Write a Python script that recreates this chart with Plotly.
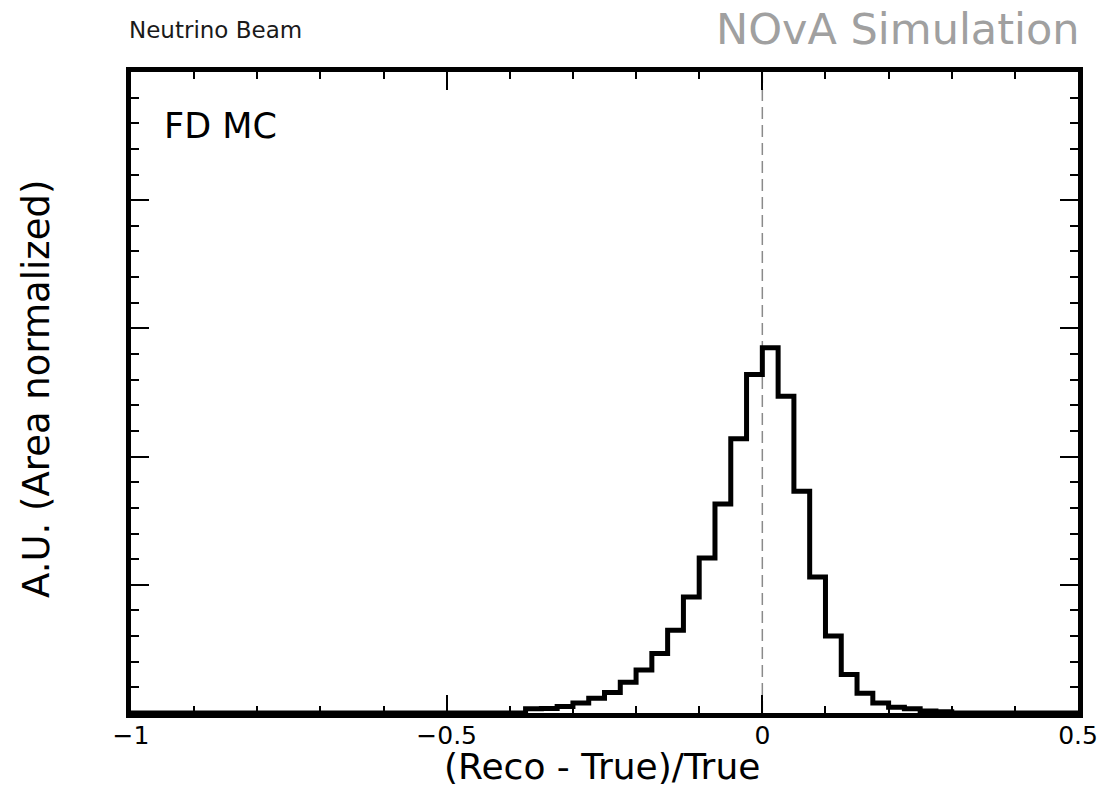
import numpy as np
import plotly.graph_objects as go

# ---- data ----
bin_width = 0.025
x_min, x_max = -1.0, 0.5
first_bin_low = -0.375
bin_values = [0.033, 0.035, 0.05, 0.078, 0.116, 0.16, 0.24,
              0.335, 0.465, 0.645, 0.905, 1.21, 1.63, 2.14, 2.64,
              2.85, 2.47, 1.73, 1.06, 0.60, 0.30, 0.155, 0.078, 0.044,
              0.033, 0.015, 0.01]
x_tick_vals = [-1, -0.5, 0, 0.5]
x_tick_text = ["\u22121", "\u22120.5", "0", "0.5"]
x_title = "(Reco - True)/True"
y_title = "A.U. (Area normalized)"

# ---- build full histogram over the axis range ----
n_bins = int(round((x_max - x_min) / bin_width))
edges = x_min + bin_width * np.arange(n_bins + 1)
counts = np.zeros(n_bins)
start = int(round((first_bin_low - x_min) / bin_width))
counts[start:start + len(bin_values)] = bin_values
xs = list(edges)
ys = list(counts) + [counts[-1]]

fig = go.Figure()
fig.add_trace(go.Scatter(x=[0, 0], y=[0, 5], mode="lines",
                         line=dict(color="#8a8a8a", width=1.5, dash="12px,6px"),
                         hoverinfo="skip", showlegend=False))
fig.add_trace(go.Scatter(x=xs, y=ys, mode="lines", line_shape="hv",
                         line=dict(color="black", width=5),
                         showlegend=False))

axis_common = dict(showline=True, linecolor="black", linewidth=5, mirror="allticks",
                   ticks="inside", ticklen=18, tickwidth=1.5, tickcolor="black",
                   showgrid=False, zeroline=False, automargin=False)

fig.update_xaxes(range=[x_min, x_max], tickmode="array", tickvals=x_tick_vals,
                 ticktext=x_tick_text, ticklabelstandoff=-4,
                 minor=dict(dtick=0.1, tick0=-1, ticks="inside", ticklen=7,
                            tickwidth=1.5, tickcolor="black", showgrid=False),
                 tickfont=dict(family="DejaVu Sans", size=25, color="black"),
                 **axis_common)
fig.update_yaxes(range=[0, 5], tickmode="linear", tick0=0, dtick=1,
                 showticklabels=False,
                 minor=dict(dtick=0.2, tick0=0, ticks="inside", ticklen=8,
                            tickwidth=1.5, tickcolor="black", showgrid=False),
                 **axis_common)

L, R, T, B = 131, 24, 72, 77
W, H = 1102, 790
pw, ph = W - L - R, H - T - B

def px(x):
    return (x - L) / pw

def py(y):
    return (H - B - y) / ph

annotations = [
    dict(text="Neutrino Beam", x=px(127), y=py(30), xanchor="left", yanchor="middle",
         font=dict(family="DejaVu Sans", size=23, color="#1a1a1a")),
    dict(text="NOvA Simulation", x=px(1082), y=py(29), xanchor="right", yanchor="middle",
         font=dict(family="DejaVu Sans", size=43, color="#a0a0a0")),
    dict(text="FD MC", x=px(162), y=py(126), xanchor="left", yanchor="middle",
         font=dict(family="DejaVu Sans", size=35, color="black")),
    dict(text=x_title, x=px(602), y=py(767), xanchor="center", yanchor="middle",
         font=dict(family="DejaVu Sans", size=36, color="black")),
    dict(text=y_title, x=px(36), y=py(389), xanchor="center", yanchor="middle",
         textangle=-90, font=dict(family="DejaVu Sans", size=37, color="black")),
]
for a in annotations:
    a.update(xref="paper", yref="paper", showarrow=False)

fig.update_layout(width=W, height=H, margin=dict(l=L, r=R, t=T, b=B),
                  plot_bgcolor="white", paper_bgcolor="white",
                  annotations=annotations)

fig.write_html("out.html")
